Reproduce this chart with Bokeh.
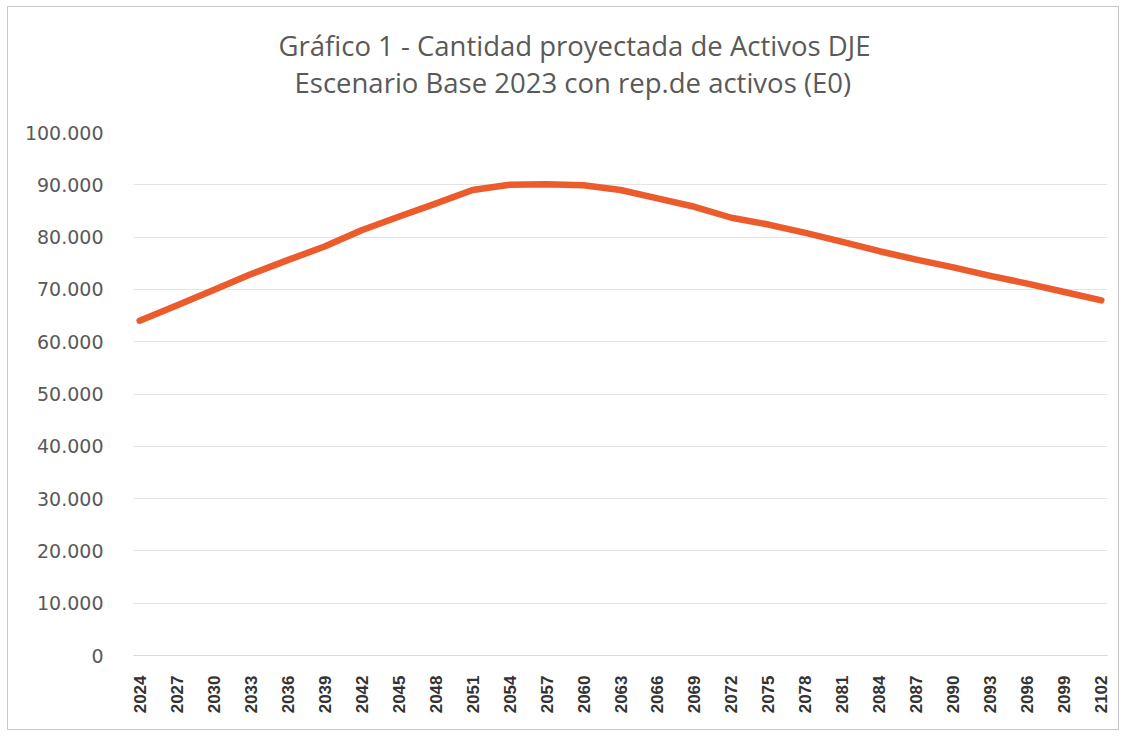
import math
from bokeh.plotting import figure
from bokeh.models import FixedTicker, CustomJSTickFormatter, Title, Range1d
from bokeh.embed import file_html
from bokeh.resources import INLINE

title_line1 = "Gráfico 1 - Cantidad proyectada de Activos DJE"
title_line2 = "Escenario Base 2023 con rep.de activos (E0)"

years = [2024, 2027, 2030, 2033, 2036, 2039, 2042, 2045, 2048, 2051, 2054, 2057, 2060,
         2063, 2066, 2069, 2072, 2075, 2078, 2081, 2084, 2087, 2090, 2093, 2096, 2099, 2102]
activos = [64000, 66900, 69900, 72900, 75600, 78200, 81300, 83900, 86400, 89000, 90000, 90100, 89900,
           89000, 87400, 85800, 83700, 82400, 80800, 79100, 77300, 75700, 74200, 72600, 71100, 69500, 67900]
y_ticks = [0, 10000, 20000, 30000, 40000, 50000, 60000, 70000, 80000, 90000, 100000]

p = figure(width=1112, height=724, output_backend="svg", toolbar_location=None,
           x_range=Range1d(years[0] - 0.5, years[-1] + 0.5), y_range=Range1d(0, 100000),
           min_border_left=125, min_border_right=13, min_border_top=125, min_border_bottom=76,
           background_fill_color="white", border_fill_color="white")
p.margin = (6, 0, 0, 7)
p.styles = {"border": "1px solid #c8c8c8"}
p.outline_line_color = None

p.line(years, activos, line_color="#EC5B2C", line_width=6.5, line_cap="round", line_join="round")

# axes
p.yaxis.ticker = FixedTicker(ticks=y_ticks)
p.yaxis.formatter = CustomJSTickFormatter(code="""
return Math.round(tick).toString().replace(/\\B(?=(\\d{3})+(?!\\d))/g, ".");
""")
p.yaxis.axis_line_color = None
p.yaxis.major_tick_line_color = None
p.yaxis.minor_tick_line_color = None
p.yaxis.major_label_standoff = 24
p.yaxis.major_label_text_font = "DejaVu Sans"
p.yaxis.major_label_text_font_size = "19px"
p.yaxis.major_label_text_color = "#595959"

p.xaxis.ticker = FixedTicker(ticks=years)
p.xaxis.major_label_orientation = math.pi / 2
p.xaxis.axis_line_color = "#d9d9d9"
p.xaxis.major_tick_line_color = None
p.xaxis.minor_tick_line_color = None
p.xaxis.major_label_standoff = 14
p.xaxis.major_label_text_font = "Liberation Sans"
p.xaxis.major_label_text_font_style = "bold"
p.xaxis.major_label_text_font_size = "17px"
p.xaxis.major_label_text_color = "#333333"

p.xgrid.grid_line_color = None
p.ygrid.grid_line_color = "#e4e4e4"
p.ygrid.grid_line_width = 1

# titles (first added sits closest to the plot); a blank spacer lifts them
p.add_layout(Title(text=" ", standoff=27, text_font_size="1px"), "above")
p.add_layout(Title(text=title_line2, align="left", offset=161, standoff=0, vertical_align="top",
                   text_font="Open Sans", text_font_size="27.5px", text_font_style="normal",
                   text_color="#595959"), "above")
p.add_layout(Title(text=title_line1, align="left", offset=145, standoff=0, vertical_align="bottom",
                   text_font="Open Sans", text_font_size="27.5px", text_font_style="normal",
                   text_color="#595959"), "above")

open("out.html", "w").write(file_html(p, INLINE))
